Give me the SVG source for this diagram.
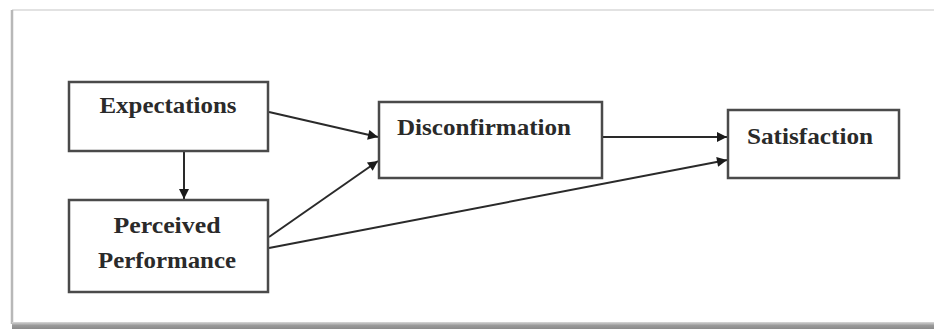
<svg xmlns="http://www.w3.org/2000/svg" width="934" height="329" viewBox="0 0 934 329">
  <defs>
    <marker id="arrow" viewBox="0 0 10 10" refX="10" refY="5" markerWidth="12" markerHeight="10" markerUnits="userSpaceOnUse" orient="auto">
      <path d="M0,0 L10,5 L0,10 Z" fill="#1a1a1a"/>
    </marker>
    <linearGradient id="shadow" x1="0" y1="0" x2="0" y2="1">
      <stop offset="0" stop-color="#d8d8d8"/>
      <stop offset="0.5" stop-color="#9a9a9a"/>
      <stop offset="1" stop-color="#8a8a8a"/>
    </linearGradient>
  </defs>
  <style>
    .box { fill: #ffffff; stroke: #4a4a4a; stroke-width: 2.5; }
    .label { font-family: "Liberation Serif", "Times New Roman", serif; font-weight: bold; font-size: 24px; fill: #2a2a2a; }
    .edge { stroke: #2a2a2a; stroke-width: 2; fill: none; marker-end: url(#arrow); }
  </style>

  <!-- page background and frame -->
  <rect x="0" y="0" width="934" height="329" fill="#ffffff"/>
  <line x1="12" y1="10" x2="934" y2="10" stroke="#e2e2e2" stroke-width="2"/>
  <line x1="12" y1="10" x2="12" y2="324" stroke="#b8b8b8" stroke-width="2.5"/>
  <rect x="12" y="322" width="922" height="7" fill="url(#shadow)"/>

  <g id="connectors">
    <line class="edge" x1="184" y1="151" x2="184" y2="199"/>
    <line class="edge" x1="269" y1="112" x2="378" y2="137"/>
    <line class="edge" x1="269" y1="237" x2="378" y2="161"/>
    <line class="edge" x1="603" y1="137" x2="727" y2="137"/>
    <line class="edge" x1="269" y1="248" x2="727" y2="160"/>
  </g>

  <g id="expectations">
    <rect class="box" x="69" y="82" width="199" height="69"/>
    <text class="label" x="168" y="113" text-anchor="middle" textLength="137" lengthAdjust="spacingAndGlyphs">Expectations</text>
  </g>

  <g id="perceived-performance">
    <rect class="box" x="69" y="200" width="199" height="92"/>
    <text class="label" x="167" y="233" text-anchor="middle" textLength="107" lengthAdjust="spacingAndGlyphs">Perceived</text>
    <text class="label" x="167" y="268" text-anchor="middle" textLength="138" lengthAdjust="spacingAndGlyphs">Performance</text>
  </g>

  <g id="disconfirmation">
    <rect class="box" x="379" y="102" width="223" height="76"/>
    <text class="label" x="397" y="135" textLength="174" lengthAdjust="spacingAndGlyphs">Disconfirmation</text>
  </g>

  <g id="satisfaction">
    <rect class="box" x="728" y="110" width="171" height="68"/>
    <text class="label" x="747" y="144" textLength="126" lengthAdjust="spacingAndGlyphs">Satisfaction</text>
  </g>
</svg>
